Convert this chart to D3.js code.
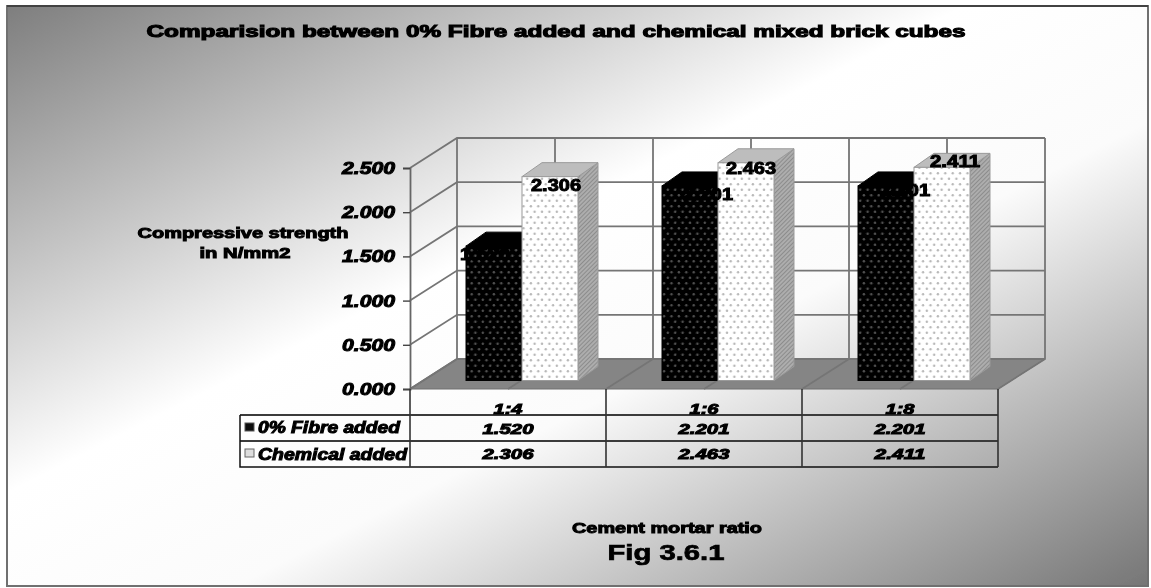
<!DOCTYPE html>
<html><head><meta charset="utf-8">
<script src="https://cdn.jsdelivr.net/npm/d3@7"></script>
<style>html,body{margin:0;padding:0;background:#fff;overflow:hidden}svg{display:block}
text{font-family:"Liberation Sans",Arial,sans-serif;font-weight:bold;fill:#000;stroke:#000;stroke-width:1px}</style>
</head><body><div id="chart"></div>
<script>
const categories = ["1:4", "1:6", "1:8"];
const seriesNames = ["0% Fibre added", "Chemical added"];
const fibre = [1.520, 2.201, 2.201];
const chemical = [2.306, 2.463, 2.411];
const yTicks = [0, 0.5, 1, 1.5, 2, 2.5];
const titleText = "Comparision between 0%  Fibre added and chemical mixed brick cubes";
const xTitle = "Cement mortar ratio";
const figText = "Fig 3.6.1";
const yTitle = ["Compressive strength", "in N/mm2"];

const W = 1151, H = 588;
const svg = d3.select("#chart").append("svg").attr("width", W).attr("height", H);
const defs = svg.append("defs");
const g0 = defs.append("linearGradient").attr("id", "bg").attr("x1", 0).attr("y1", 0).attr("x2", 1).attr("y2", 1);
[[0, "#7e7e7e"], [0.42, "#ffffff"], [0.6, "#fbfbfb"], [1, "#767676"]].forEach(s => g0.append("stop").attr("offset", s[0]).attr("stop-color", s[1]));
defs.append("filter").attr("id", "soft").attr("x", 0).attr("y", 0).attr("width", 1).attr("height", 1)
  .append("feGaussianBlur").attr("stdDeviation", 0.6);

function dots(id, bg, fg) {
  const p = defs.append("pattern").attr("id", id).attr("width", 7.4).attr("height", 11).attr("patternUnits", "userSpaceOnUse");
  p.append("rect").attr("width", 7.4).attr("height", 11).attr("fill", bg);
  [[1.8, 2.7], [5.5, 8.2]].forEach(c => p.append("circle").attr("cx", c[0]).attr("cy", c[1]).attr("r", 1.2).attr("fill", fg));
}
dots("pBlack", "#030303", "#505050");
dots("pWhite", "#ffffff", "#b8b8b8");
const hatch = defs.append("pattern").attr("id", "pSide").attr("width", 3).attr("height", 3)
  .attr("patternUnits", "userSpaceOnUse").attr("patternTransform", "rotate(45)");
hatch.append("rect").attr("width", 3).attr("height", 3).attr("fill", "#adadad");
hatch.append("rect").attr("width", 1).attr("height", 3).attr("fill", "#8c8c8c");

const root = svg.append("g").attr("filter", "url(#soft)");
root.append("rect").attr("width", W).attr("height", H).attr("fill", "#fff");
root.append("rect").attr("x", 7).attr("y", 6).attr("width", 1141).attr("height", 580)
  .attr("fill", "url(#bg)").attr("stroke", "#707070").attr("stroke-width", 2);
root.append("path").attr("d", "M7,6H1148").attr("stroke", "#333").attr("stroke-width", 1.5);

// scales
const x = d3.scaleBand().domain(categories).range([410, 998]);
const half = x.bandwidth() / 2;
const y = d3.scaleLinear().domain([0, 2.5]).range([389, 168]);
const depth = { dx: 47, dy: -30 };
const barPlane = { dy: -8.5 };
const barDepth = { dx: 20, dy: -14 };
const inner = d3.scaleBand().domain(seriesNames).range([56, 168]);
const gridColor = "#757575";

const floorFront = categories.flatMap(c => [x(c), x(c) + half]).concat([x.range()[1]]);
root.append("path").attr("d", d3.line()([[x.range()[0], y(0)], [x.range()[1], y(0)], [x.range()[1] + depth.dx, y(0) + depth.dy], [x.range()[0] + depth.dx, y(0) + depth.dy]]) + "Z")
  .attr("fill", "#858585").attr("stroke", "#6e6e6e");
const lines = root.append("g").attr("stroke", gridColor).attr("stroke-width", 1.8).attr("fill", "none");
lines.selectAll(".h").data(yTicks).join("path").attr("d", v => d3.line()([
  [x.range()[0], y(v)], [x.range()[0] + depth.dx, y(v) + depth.dy], [x.range()[1] + depth.dx, y(v) + depth.dy]]));
lines.selectAll(".v").data(floorFront).join("path").attr("d", f => d3.line()([
  [f, y(0)], [f + depth.dx, y(0) + depth.dy], [f + depth.dx, y(2.5) + depth.dy]]));

// y axis
const axisG = root.append("g").attr("transform", `translate(${x.range()[0]},0)`)
  .call(d3.axisLeft(y).tickValues(yTicks).tickFormat(d3.format(".3f")).tickSize(7).tickPadding(8));
axisG.select(".domain").attr("stroke", "#666").attr("stroke-width", 1.8);
axisG.selectAll(".tick line").attr("stroke", "#444").attr("stroke-width", 1.4);
axisG.selectAll(".tick text").style("font-size", "17px").attr("fill", "#000")
  .attr("textLength", 53).attr("lengthAdjust", "spacingAndGlyphs").style("font-style", "italic");

// bars
const rows = categories.map((c, i) => ({ c, vals: [fibre[i], chemical[i]] }));
const grp = root.selectAll(".grp").data(rows).join("g");
const barX = (d, s) => x(d.c) + inner(s);
const bw = inner.bandwidth();
const barTop = v => y(v) + barPlane.dy, base = y(0) + barPlane.dy;
seriesNames.forEach((s, si) => {
  const fill = si ? "url(#pWhite)" : "url(#pBlack)";
  const edge = si ? "#9a9a9a" : "#000";
  grp.append("path").attr("fill", si ? "url(#pSide)" : "#000").attr("stroke", edge).attr("d", d => {
    const a = barX(d, s) + bw, t = barTop(d.vals[si]);
    return d3.line()([[a, t], [a + barDepth.dx, t + barDepth.dy], [a + barDepth.dx, base + barDepth.dy], [a, base]]) + "Z";
  });
  grp.append("path").attr("fill", si ? "#bdbdbd" : "#000").attr("stroke", edge).attr("d", d => {
    const a = barX(d, s), t = barTop(d.vals[si]);
    return d3.line()([[a, t], [a + barDepth.dx, t + barDepth.dy], [a + bw + barDepth.dx, t + barDepth.dy], [a + bw, t]]) + "Z";
  });
  grp.append("rect").attr("x", d => barX(d, s)).attr("y", d => barTop(d.vals[si])).attr("width", bw)
    .attr("height", d => base - barTop(d.vals[si])).attr("fill", fill).attr("stroke", edge);
});

// data labels
const labelShift = [[[-9, 8], [6, 8]], [[18, 8], [5, 5]], [[19, 4], [13, -6]]];
rows.forEach((d, i) => d.vals.forEach((v, si) => {
  const cx = barX(d, seriesNames[si]) + bw / 2 + labelShift[i][si][0];
  root.append("text").attr("x", cx).attr("y", barTop(v) + labelShift[i][si][1]).attr("dy", ".36em")
    .attr("text-anchor", "middle").style("font-size", "17px")
    .attr("textLength", 50).attr("lengthAdjust", "spacingAndGlyphs").text(d3.format(".3f")(v));
}));

// data table
const rowY = [415, 441, 467];
const tbl = root.append("g").attr("fill", "none");
const tableLeft = 240;
tbl.append("path").attr("stroke", "#3a3a3a").attr("stroke-width", 1.8).attr("d", `M${tableLeft},${rowY[0]}H${x.range()[1]}M${tableLeft},${rowY[1]}H${x.range()[1]}`);
tbl.append("path").attr("stroke", "#111").attr("stroke-width", 1.5).attr("d", `M${tableLeft},${rowY[0]}V${rowY[2]}H${x.range()[1]}`);
tbl.selectAll(".tv").data(x.domain().map(c => x(c)).concat([x.range()[1]])).join("path")
  .attr("stroke", "#333").attr("stroke-width", 1.6).attr("d", p => `M${p},${y(0)}V${rowY[2]}`);
root.append("rect").attr("x", 245).attr("y", 423).attr("width", 9).attr("height", 8).attr("fill", "#111").attr("stroke", "#555");
root.append("rect").attr("x", 245).attr("y", 449).attr("width", 9).attr("height", 8).attr("fill", "#ddd").attr("stroke", "#666");

function label(t, px, py, size, len, opts = {}) {
  return root.append("text").attr("x", px).attr("y", py).attr("dy", ".36em").attr("text-anchor", opts.anchor || "middle")
    .style("font-size", size + "px").style("font-style", opts.italic ? "italic" : "normal")
    .attr("textLength", len).attr("lengthAdjust", "spacingAndGlyphs").text(t);
}
categories.forEach(c => label(c, x(c) + half, 409, 15, 29, { italic: true }));
seriesNames.forEach((s, i) => label(s, 258, [427, 454][i], 16, [142, 149][i], { anchor: "start", italic: true }));
[fibre, chemical].forEach((arr, r) => arr.forEach((v, i) =>
  label(d3.format(".3f")(v), x(categories[i]) + half, [429, 454][r], 15, 51, { italic: true })));

label(titleText, 556, 31, 17, 819).style("stroke-width", "1.1px");
label(yTitle[0], 243, 233, 15, 211);
label(yTitle[1], 245, 253, 15, 91);
label(xTitle, 667, 528, 15, 190);
label(figText, 666, 552, 22, 117).style("stroke-width", ".7px");
</script></body></html>
